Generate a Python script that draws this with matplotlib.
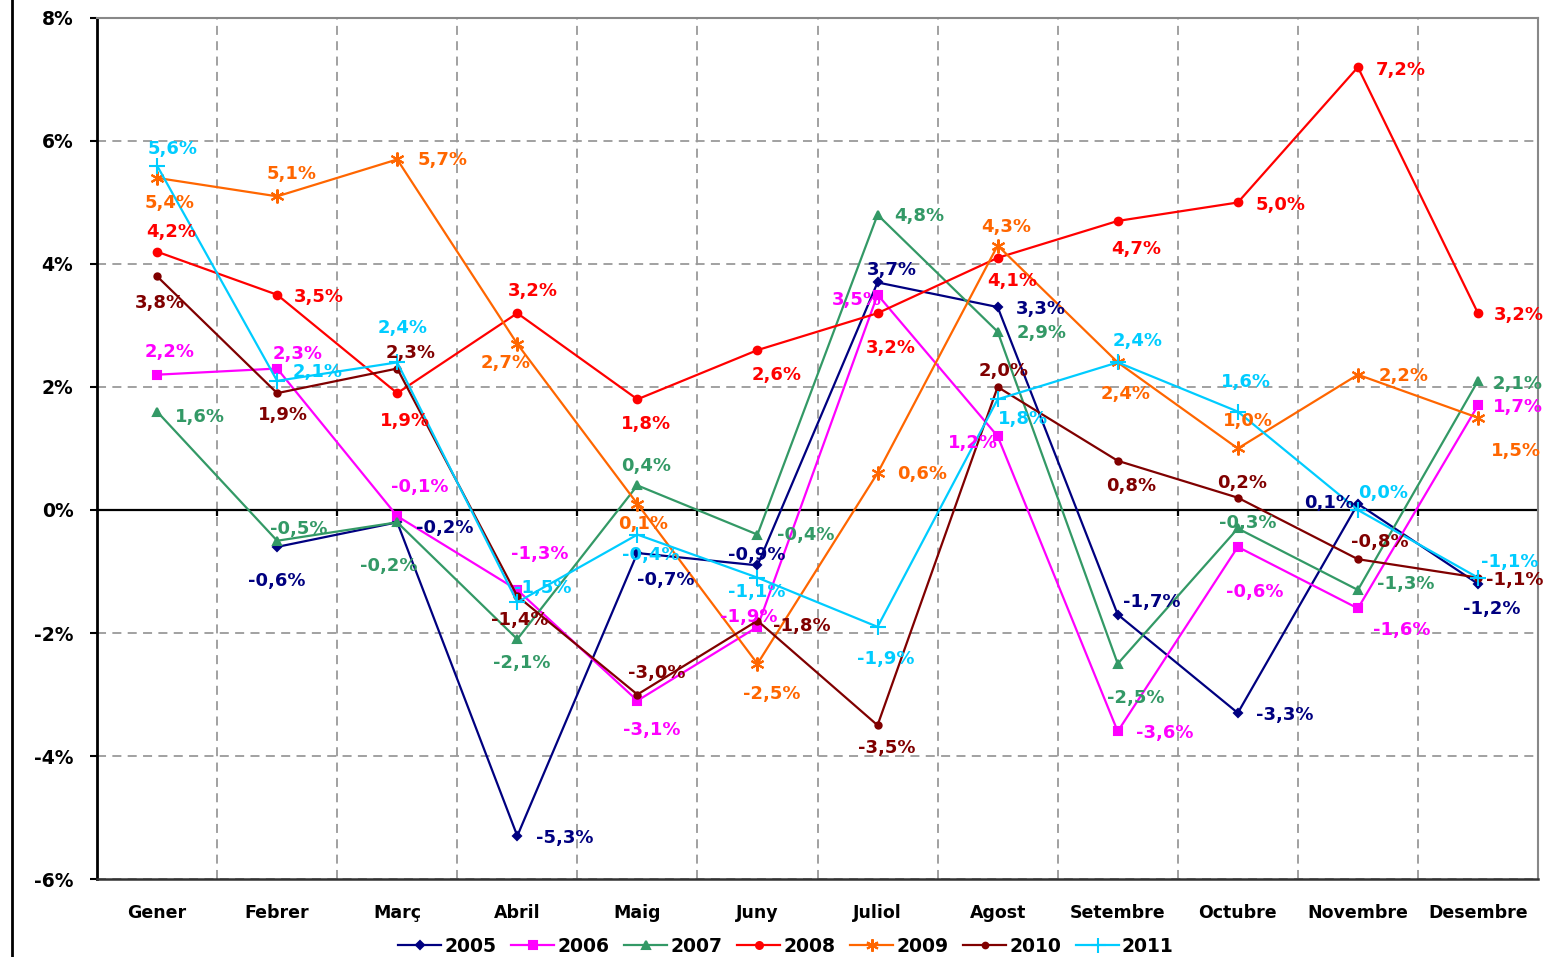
import numpy as np
import matplotlib
matplotlib.use("Agg")
import matplotlib.pyplot as plt
from matplotlib.lines import Line2D

months = ["Gener", "Febrer", "Març", "Abril", "Maig", "Juny",
          "Juliol", "Agost", "Setembre", "Octubre", "Novembre", "Desembre"]
years = ["2005", "2006", "2007", "2008", "2009", "2010", "2011"]

v2005 = [np.nan, -0.6, -0.2, -5.3, -0.7, -0.9, 3.7, 3.3, -1.7, -3.3, 0.1, -1.2]
v2006 = [2.2, 2.3, -0.1, -1.3, -3.1, -1.9, 3.5, 1.2, -3.6, -0.6, -1.6, 1.7]
v2007 = [1.6, -0.5, -0.2, -2.1, 0.4, -0.4, 4.8, 2.9, -2.5, -0.3, -1.3, 2.1]
v2008 = [4.2, 3.5, 1.9, 3.2, 1.8, 2.6, 3.2, 4.1, 4.7, 5.0, 7.2, 3.2]
v2009 = [5.4, 5.1, 5.7, 2.7, 0.1, -2.5, 0.6, 4.3, 2.4, 1.0, 2.2, 1.5]
v2010 = [3.8, 1.9, 2.3, -1.4, -3.0, -1.8, -3.5, 2.0, 0.8, 0.2, -0.8, -1.1]
v2011 = [5.6, 2.1, 2.4, -1.5, -0.4, -1.1, -1.9, 1.8, 2.4, 1.6, 0.0, -1.1]
series = [v2005, v2006, v2007, v2008, v2009, v2010, v2011]

colors = ["#000080", "#FF00FF", "#339966", "#FF0000", "#FF6600", "#800000", "#00CCFF"]
markers = ["D", "s", "^", "o", (6, 2, 0), "o", "+"]
msizes = [4.5, 6, 6, 5.5, 10, 4.5, 12]

# label offsets in pixels (dx right, dy down) for each point's value label
offsets = {
    "2005": [None, (0, 34), (48, 6), (47, 2), (28, 27), (-1, -10), (14, -12),
             (43, 2), (34, -13), (47, 2), (-29, -1), (14, 25)],
    "2006": [(13, -23), (20, -15), (23, -29), (22, -36), (14, 29), (-9, -10),
             (-21, 5), (-25, 7), (47, 2), (17, 45), (44, 22), (40, 2)],
    "2007": [(43, 5), (22, -12), (-8, 44), (4, 24), (9, -19), (48, 0),
             (42, 1), (44, 1), (18, 34), (10, -5), (48, -6), (40, 3)],
    "2008": [(14, -20), (42, 2), (8, 28), (16, -22), (9, 25), (19, 25),
             (13, 35), (15, 23), (18, 28), (43, 3), (43, 3), (41, 2)],
    "2009": [(13, 25), (14, -22), (45, 1), (-12, 19), (6, 20), (14, 30),
             (45, 1), (9, -19), (8, 32), (10, -27), (46, 1), (38, 33)],
    "2010": [(3, 27), (6, 22), (13, -16), (2, 24), (19, -22), (44, 5),
             (9, 23), (6, -16), (13, 25), (4, -15), (22, -17), (37, 2)],
    "2011": [(16, -17), (40, -9), (5, -34), (25, -14), (13, 20), (-1, 14),
             (8, 32), (25, 20), (20, -21), (8, -30), (25, -17), (32, -16)],
}

fig = plt.figure(figsize=(15.47, 9.57), dpi=100)
ax = fig.add_axes([0.0627, 0.0815, 0.9315, 0.8997])

x = np.arange(len(months))
for yr, vals, c, m, ms in zip(years, series, colors, markers, msizes):
    ax.plot(x, vals, color=c, lw=1.6, marker=m, markersize=ms,
            markeredgewidth=1.5, zorder=3)
    for i, v in enumerate(vals):
        if np.isnan(v):
            continue
        dx, dy = offsets[yr][i]
        ax.annotate(f"{v:.1f}%".replace(".", ","), (i, v),
                    xytext=(dx, -dy), textcoords="offset pixels",
                    ha="center", va="center", color=c,
                    fontsize=13, fontweight="bold", zorder=4)

ax.set_xlim(-0.5, len(months) - 0.5)
ax.set_ylim(-6, 8)
ax.set_yticks(np.arange(-6, 9, 2))
ax.set_yticklabels([f"{t}%" for t in range(-6, 9, 2)],
                   fontsize=13.5, fontweight="bold")
ax.set_xticks(x)
ax.set_xticklabels(months, fontsize=12.5, fontweight="bold")
ax.tick_params(axis="x", length=0, pad=18)
ax.tick_params(axis="y", length=5, width=1.5, pad=12, direction="out")

ax.set_xticks(np.arange(-0.5, len(months), 1), minor=True)
ax.tick_params(axis="x", which="minor", length=0)
ax.grid(True, which="minor", axis="x", color="#9a9a9a", lw=1.3,
        linestyle=(0, (5, 3.5)))
ax.grid(True, which="major", axis="y", color="#9a9a9a", lw=1.3,
        linestyle=(0, (5, 3.5)))
ax.grid(False, which="major", axis="x")

ax.axhline(0, color="black", lw=1.6, zorder=2)
ax.vlines(np.arange(0.5, len(months) - 0.5, 1), -0.1, 0, color="black", lw=1.6, zorder=2)

ax.spines["left"].set_color("black")
ax.spines["left"].set_linewidth(2)
ax.spines["bottom"].set_color("#333333")
ax.spines["bottom"].set_linewidth(1.8)
ax.spines["top"].set_color("#888888")
ax.spines["top"].set_linewidth(1.5)
ax.spines["right"].set_color("#888888")
ax.spines["right"].set_linewidth(1.5)

handles = [Line2D([], [], color=c, lw=1.6, marker=m, markersize=ms * 0.9,
                  markeredgewidth=1.5)
           for c, m, ms in zip(colors, markers, msizes)]
fig.legend(handles, years, loc="center", bbox_to_anchor=(786 / 1547, 1 - 946 / 957),
           ncol=7, frameon=False, prop={"size": 13.5, "weight": "bold"},
           handlelength=2.3, handletextpad=0.15, columnspacing=0.8)

fig.add_artist(Line2D([12 / 1547, 12 / 1547], [0, 1], color="black", lw=2,
                      transform=fig.transFigure))

fig.savefig("out.png", dpi=100)
